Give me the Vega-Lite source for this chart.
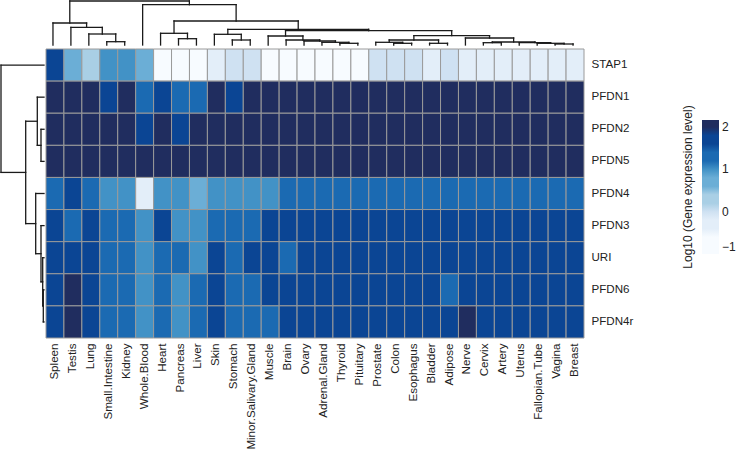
{
  "$schema": "https://vega.github.io/schema/vega-lite/v6.json",
  "padding": 0,
  "background": "white",
  "spacing": 0,
  "config": {"view": {"stroke": null}, "font": "Liberation Sans", "concat": {"spacing": 0}},
  "datasets": {
    "colTree": [
      {"xl": 3.5, "xr": 4.5, "hl": 3, "hr": 3, "h": 6.3},
      {"xl": 2.5, "xr": 4.0, "hl": 3, "hr": 6.3, "h": 14},
      {"xl": 1.5, "xr": 3.25, "hl": 3, "hr": 14, "h": 20.7},
      {"xl": 0.5, "xr": 2.375, "hl": 3, "hr": 20.7, "h": 25},
      {"xl": 7.5, "xr": 8.5, "hl": 3, "hr": 3, "h": 9.3},
      {"xl": 6.5, "xr": 8.0, "hl": 3, "hr": 9.3, "h": 14.7},
      {"xl": 10.5, "xr": 11.5, "hl": 3, "hr": 3, "h": 8},
      {"xl": 9.5, "xr": 11.0, "hl": 3, "hr": 8, "h": 13.7},
      {"xl": 16.5, "xr": 17.5, "hl": 3, "hr": 3, "h": 4.7},
      {"xl": 15.5, "xr": 17.0, "hl": 3, "hr": 4.7, "h": 5.7},
      {"xl": 14.5, "xr": 16.25, "hl": 3, "hr": 5.7, "h": 7},
      {"xl": 13.5, "xr": 15.375, "hl": 3, "hr": 7, "h": 8},
      {"xl": 12.5, "xr": 14.4375, "hl": 3, "hr": 8, "h": 12},
      {"xl": 19.5, "xr": 20.5, "hl": 3, "hr": 3, "h": 4.7},
      {"xl": 18.5, "xr": 20.0, "hl": 3, "hr": 4.7, "h": 5.7},
      {"xl": 21.5, "xr": 22.5, "hl": 3, "hr": 3, "h": 4.7},
      {"xl": 19.25, "xr": 22.0, "hl": 5.7, "hr": 4.7, "h": 8},
      {"xl": 28.5, "xr": 29.5, "hl": 3, "hr": 3, "h": 4},
      {"xl": 27.5, "xr": 29.0, "hl": 3, "hr": 4, "h": 4.7},
      {"xl": 26.5, "xr": 28.25, "hl": 3, "hr": 4.7, "h": 5.3},
      {"xl": 24.5, "xr": 25.5, "hl": 3, "hr": 3, "h": 5.3},
      {"xl": 25.0, "xr": 27.375, "hl": 5.3, "hr": 5.3, "h": 6},
      {"xl": 23.5, "xr": 26.1875, "hl": 3, "hr": 6, "h": 10},
      {"xl": 20.625, "xr": 24.84375, "hl": 8, "hr": 10, "h": 12.3},
      {"xl": 13.46875, "xr": 22.734375, "hl": 12, "hr": 12.3, "h": 17.3},
      {"xl": 10.25, "xr": 18.1015625, "hl": 13.7, "hr": 17.3, "h": 18.7},
      {"xl": 7.25, "xr": 14.17578, "hl": 14.7, "hr": 18.7, "h": 27},
      {"xl": 5.5, "xr": 10.71289, "hl": 3, "hr": 27, "h": 43.3},
      {"xl": 1.4375, "xr": 8.106445, "hl": 25, "hr": 43.3, "h": 47}
    ],
    "rowTree": [
      {"yl": 2.5, "yu": 3.5, "d": 3, "dl": 0, "du": 0},
      {"yl": 1.5, "yu": 3.0, "d": 6.7, "dl": 0, "du": 3},
      {"yl": 7.5, "yu": 8.5, "d": 0.7, "dl": 0, "du": 0},
      {"yl": 6.5, "yu": 8.0, "d": 1.3, "dl": 0, "du": 0.7},
      {"yl": 5.5, "yu": 7.25, "d": 3, "dl": 0, "du": 1.3},
      {"yl": 4.5, "yu": 6.375, "d": 8.3, "dl": 0, "du": 3},
      {"yl": 2.25, "yu": 5.4375, "d": 18.3, "dl": 6.7, "du": 8.3},
      {"yl": 0.5, "yu": 3.84375, "d": 43, "dl": 0, "du": 18.3}
    ],
    "cells": [
      {"gene":"STAP1","tissue":"Spleen","value":1.7},{"gene":"STAP1","tissue":"Testis","value":0.7},{"gene":"STAP1","tissue":"Lung","value":0.3},{"gene":"STAP1","tissue":"Small.Intestine","value":1.0},{"gene":"STAP1","tissue":"Kidney","value":1.0},{"gene":"STAP1","tissue":"Whole.Blood","value":0.7},{"gene":"STAP1","tissue":"Heart","value":-0.7},{"gene":"STAP1","tissue":"Pancreas","value":-0.7},{"gene":"STAP1","tissue":"Liver","value":-0.7},{"gene":"STAP1","tissue":"Skin","value":-0.3},{"gene":"STAP1","tissue":"Stomach","value":0.0},{"gene":"STAP1","tissue":"Minor.Salivary.Gland","value":0.0},{"gene":"STAP1","tissue":"Muscle","value":-0.7},{"gene":"STAP1","tissue":"Brain","value":-0.7},{"gene":"STAP1","tissue":"Ovary","value":-0.7},{"gene":"STAP1","tissue":"Adrenal.Gland","value":-0.7},{"gene":"STAP1","tissue":"Thyroid","value":-0.7},{"gene":"STAP1","tissue":"Pituitary","value":-0.7},{"gene":"STAP1","tissue":"Prostate","value":0.0},{"gene":"STAP1","tissue":"Colon","value":0.0},{"gene":"STAP1","tissue":"Esophagus","value":0.0},{"gene":"STAP1","tissue":"Bladder","value":-0.3},{"gene":"STAP1","tissue":"Adipose","value":0.0},{"gene":"STAP1","tissue":"Nerve","value":-0.3},{"gene":"STAP1","tissue":"Cervix","value":-0.3},{"gene":"STAP1","tissue":"Artery","value":-0.3},{"gene":"STAP1","tissue":"Uterus","value":-0.3},{"gene":"STAP1","tissue":"Fallopian.Tube","value":-0.3},{"gene":"STAP1","tissue":"Vagina","value":-0.3},{"gene":"STAP1","tissue":"Breast","value":-0.3},
      {"gene":"PFDN1","tissue":"Spleen","value":2.0},{"gene":"PFDN1","tissue":"Testis","value":2.0},{"gene":"PFDN1","tissue":"Lung","value":2.0},{"gene":"PFDN1","tissue":"Small.Intestine","value":1.7},{"gene":"PFDN1","tissue":"Kidney","value":2.0},{"gene":"PFDN1","tissue":"Whole.Blood","value":1.3},{"gene":"PFDN1","tissue":"Heart","value":1.7},{"gene":"PFDN1","tissue":"Pancreas","value":1.3},{"gene":"PFDN1","tissue":"Liver","value":1.3},{"gene":"PFDN1","tissue":"Skin","value":2.0},{"gene":"PFDN1","tissue":"Stomach","value":1.7},{"gene":"PFDN1","tissue":"Minor.Salivary.Gland","value":2.0},{"gene":"PFDN1","tissue":"Muscle","value":2.0},{"gene":"PFDN1","tissue":"Brain","value":2.0},{"gene":"PFDN1","tissue":"Ovary","value":2.0},{"gene":"PFDN1","tissue":"Adrenal.Gland","value":2.0},{"gene":"PFDN1","tissue":"Thyroid","value":2.0},{"gene":"PFDN1","tissue":"Pituitary","value":2.0},{"gene":"PFDN1","tissue":"Prostate","value":2.0},{"gene":"PFDN1","tissue":"Colon","value":2.0},{"gene":"PFDN1","tissue":"Esophagus","value":2.0},{"gene":"PFDN1","tissue":"Bladder","value":2.0},{"gene":"PFDN1","tissue":"Adipose","value":2.0},{"gene":"PFDN1","tissue":"Nerve","value":2.0},{"gene":"PFDN1","tissue":"Cervix","value":2.0},{"gene":"PFDN1","tissue":"Artery","value":2.0},{"gene":"PFDN1","tissue":"Uterus","value":2.0},{"gene":"PFDN1","tissue":"Fallopian.Tube","value":2.0},{"gene":"PFDN1","tissue":"Vagina","value":2.0},{"gene":"PFDN1","tissue":"Breast","value":2.0},
      {"gene":"PFDN2","tissue":"Spleen","value":2.0},{"gene":"PFDN2","tissue":"Testis","value":2.0},{"gene":"PFDN2","tissue":"Lung","value":2.0},{"gene":"PFDN2","tissue":"Small.Intestine","value":2.0},{"gene":"PFDN2","tissue":"Kidney","value":2.0},{"gene":"PFDN2","tissue":"Whole.Blood","value":1.7},{"gene":"PFDN2","tissue":"Heart","value":2.0},{"gene":"PFDN2","tissue":"Pancreas","value":1.7},{"gene":"PFDN2","tissue":"Liver","value":2.0},{"gene":"PFDN2","tissue":"Skin","value":2.0},{"gene":"PFDN2","tissue":"Stomach","value":2.0},{"gene":"PFDN2","tissue":"Minor.Salivary.Gland","value":2.0},{"gene":"PFDN2","tissue":"Muscle","value":2.0},{"gene":"PFDN2","tissue":"Brain","value":2.0},{"gene":"PFDN2","tissue":"Ovary","value":2.0},{"gene":"PFDN2","tissue":"Adrenal.Gland","value":2.0},{"gene":"PFDN2","tissue":"Thyroid","value":2.0},{"gene":"PFDN2","tissue":"Pituitary","value":2.0},{"gene":"PFDN2","tissue":"Prostate","value":2.0},{"gene":"PFDN2","tissue":"Colon","value":2.0},{"gene":"PFDN2","tissue":"Esophagus","value":2.0},{"gene":"PFDN2","tissue":"Bladder","value":2.0},{"gene":"PFDN2","tissue":"Adipose","value":2.0},{"gene":"PFDN2","tissue":"Nerve","value":2.0},{"gene":"PFDN2","tissue":"Cervix","value":2.0},{"gene":"PFDN2","tissue":"Artery","value":2.0},{"gene":"PFDN2","tissue":"Uterus","value":2.0},{"gene":"PFDN2","tissue":"Fallopian.Tube","value":2.0},{"gene":"PFDN2","tissue":"Vagina","value":2.0},{"gene":"PFDN2","tissue":"Breast","value":2.0},
      {"gene":"PFDN5","tissue":"Spleen","value":2.0},{"gene":"PFDN5","tissue":"Testis","value":2.0},{"gene":"PFDN5","tissue":"Lung","value":2.0},{"gene":"PFDN5","tissue":"Small.Intestine","value":2.0},{"gene":"PFDN5","tissue":"Kidney","value":2.0},{"gene":"PFDN5","tissue":"Whole.Blood","value":2.0},{"gene":"PFDN5","tissue":"Heart","value":2.0},{"gene":"PFDN5","tissue":"Pancreas","value":2.0},{"gene":"PFDN5","tissue":"Liver","value":2.0},{"gene":"PFDN5","tissue":"Skin","value":2.0},{"gene":"PFDN5","tissue":"Stomach","value":2.0},{"gene":"PFDN5","tissue":"Minor.Salivary.Gland","value":2.0},{"gene":"PFDN5","tissue":"Muscle","value":2.0},{"gene":"PFDN5","tissue":"Brain","value":2.0},{"gene":"PFDN5","tissue":"Ovary","value":2.0},{"gene":"PFDN5","tissue":"Adrenal.Gland","value":2.0},{"gene":"PFDN5","tissue":"Thyroid","value":2.0},{"gene":"PFDN5","tissue":"Pituitary","value":2.0},{"gene":"PFDN5","tissue":"Prostate","value":2.0},{"gene":"PFDN5","tissue":"Colon","value":2.0},{"gene":"PFDN5","tissue":"Esophagus","value":2.0},{"gene":"PFDN5","tissue":"Bladder","value":2.0},{"gene":"PFDN5","tissue":"Adipose","value":2.0},{"gene":"PFDN5","tissue":"Nerve","value":2.0},{"gene":"PFDN5","tissue":"Cervix","value":2.0},{"gene":"PFDN5","tissue":"Artery","value":2.0},{"gene":"PFDN5","tissue":"Uterus","value":2.0},{"gene":"PFDN5","tissue":"Fallopian.Tube","value":2.0},{"gene":"PFDN5","tissue":"Vagina","value":2.0},{"gene":"PFDN5","tissue":"Breast","value":2.0},
      {"gene":"PFDN4","tissue":"Spleen","value":1.3},{"gene":"PFDN4","tissue":"Testis","value":1.7},{"gene":"PFDN4","tissue":"Lung","value":1.3},{"gene":"PFDN4","tissue":"Small.Intestine","value":1.0},{"gene":"PFDN4","tissue":"Kidney","value":1.0},{"gene":"PFDN4","tissue":"Whole.Blood","value":-0.3},{"gene":"PFDN4","tissue":"Heart","value":1.0},{"gene":"PFDN4","tissue":"Pancreas","value":1.0},{"gene":"PFDN4","tissue":"Liver","value":0.7},{"gene":"PFDN4","tissue":"Skin","value":1.0},{"gene":"PFDN4","tissue":"Stomach","value":1.0},{"gene":"PFDN4","tissue":"Minor.Salivary.Gland","value":1.0},{"gene":"PFDN4","tissue":"Muscle","value":1.0},{"gene":"PFDN4","tissue":"Brain","value":1.3},{"gene":"PFDN4","tissue":"Ovary","value":1.3},{"gene":"PFDN4","tissue":"Adrenal.Gland","value":1.3},{"gene":"PFDN4","tissue":"Thyroid","value":1.3},{"gene":"PFDN4","tissue":"Pituitary","value":1.3},{"gene":"PFDN4","tissue":"Prostate","value":1.3},{"gene":"PFDN4","tissue":"Colon","value":1.3},{"gene":"PFDN4","tissue":"Esophagus","value":1.3},{"gene":"PFDN4","tissue":"Bladder","value":1.3},{"gene":"PFDN4","tissue":"Adipose","value":1.3},{"gene":"PFDN4","tissue":"Nerve","value":1.3},{"gene":"PFDN4","tissue":"Cervix","value":1.3},{"gene":"PFDN4","tissue":"Artery","value":1.3},{"gene":"PFDN4","tissue":"Uterus","value":1.3},{"gene":"PFDN4","tissue":"Fallopian.Tube","value":1.3},{"gene":"PFDN4","tissue":"Vagina","value":1.3},{"gene":"PFDN4","tissue":"Breast","value":1.3},
      {"gene":"PFDN3","tissue":"Spleen","value":1.7},{"gene":"PFDN3","tissue":"Testis","value":1.3},{"gene":"PFDN3","tissue":"Lung","value":1.7},{"gene":"PFDN3","tissue":"Small.Intestine","value":1.3},{"gene":"PFDN3","tissue":"Kidney","value":1.3},{"gene":"PFDN3","tissue":"Whole.Blood","value":1.0},{"gene":"PFDN3","tissue":"Heart","value":1.7},{"gene":"PFDN3","tissue":"Pancreas","value":1.0},{"gene":"PFDN3","tissue":"Liver","value":1.0},{"gene":"PFDN3","tissue":"Skin","value":1.3},{"gene":"PFDN3","tissue":"Stomach","value":1.3},{"gene":"PFDN3","tissue":"Minor.Salivary.Gland","value":1.3},{"gene":"PFDN3","tissue":"Muscle","value":1.7},{"gene":"PFDN3","tissue":"Brain","value":1.7},{"gene":"PFDN3","tissue":"Ovary","value":1.7},{"gene":"PFDN3","tissue":"Adrenal.Gland","value":1.7},{"gene":"PFDN3","tissue":"Thyroid","value":1.7},{"gene":"PFDN3","tissue":"Pituitary","value":1.7},{"gene":"PFDN3","tissue":"Prostate","value":1.7},{"gene":"PFDN3","tissue":"Colon","value":1.7},{"gene":"PFDN3","tissue":"Esophagus","value":1.7},{"gene":"PFDN3","tissue":"Bladder","value":1.7},{"gene":"PFDN3","tissue":"Adipose","value":1.7},{"gene":"PFDN3","tissue":"Nerve","value":1.7},{"gene":"PFDN3","tissue":"Cervix","value":1.7},{"gene":"PFDN3","tissue":"Artery","value":1.7},{"gene":"PFDN3","tissue":"Uterus","value":1.7},{"gene":"PFDN3","tissue":"Fallopian.Tube","value":1.7},{"gene":"PFDN3","tissue":"Vagina","value":1.7},{"gene":"PFDN3","tissue":"Breast","value":1.7},
      {"gene":"URI","tissue":"Spleen","value":1.7},{"gene":"URI","tissue":"Testis","value":1.7},{"gene":"URI","tissue":"Lung","value":1.7},{"gene":"URI","tissue":"Small.Intestine","value":1.3},{"gene":"URI","tissue":"Kidney","value":1.3},{"gene":"URI","tissue":"Whole.Blood","value":1.0},{"gene":"URI","tissue":"Heart","value":1.3},{"gene":"URI","tissue":"Pancreas","value":1.3},{"gene":"URI","tissue":"Liver","value":1.0},{"gene":"URI","tissue":"Skin","value":1.7},{"gene":"URI","tissue":"Stomach","value":1.3},{"gene":"URI","tissue":"Minor.Salivary.Gland","value":1.7},{"gene":"URI","tissue":"Muscle","value":1.7},{"gene":"URI","tissue":"Brain","value":1.3},{"gene":"URI","tissue":"Ovary","value":1.7},{"gene":"URI","tissue":"Adrenal.Gland","value":1.7},{"gene":"URI","tissue":"Thyroid","value":1.7},{"gene":"URI","tissue":"Pituitary","value":1.7},{"gene":"URI","tissue":"Prostate","value":1.7},{"gene":"URI","tissue":"Colon","value":1.7},{"gene":"URI","tissue":"Esophagus","value":1.7},{"gene":"URI","tissue":"Bladder","value":1.7},{"gene":"URI","tissue":"Adipose","value":1.7},{"gene":"URI","tissue":"Nerve","value":1.7},{"gene":"URI","tissue":"Cervix","value":1.7},{"gene":"URI","tissue":"Artery","value":1.7},{"gene":"URI","tissue":"Uterus","value":1.7},{"gene":"URI","tissue":"Fallopian.Tube","value":1.7},{"gene":"URI","tissue":"Vagina","value":1.7},{"gene":"URI","tissue":"Breast","value":1.7},
      {"gene":"PFDN6","tissue":"Spleen","value":1.7},{"gene":"PFDN6","tissue":"Testis","value":2.0},{"gene":"PFDN6","tissue":"Lung","value":1.7},{"gene":"PFDN6","tissue":"Small.Intestine","value":1.3},{"gene":"PFDN6","tissue":"Kidney","value":1.3},{"gene":"PFDN6","tissue":"Whole.Blood","value":1.0},{"gene":"PFDN6","tissue":"Heart","value":1.3},{"gene":"PFDN6","tissue":"Pancreas","value":1.0},{"gene":"PFDN6","tissue":"Liver","value":1.3},{"gene":"PFDN6","tissue":"Skin","value":1.7},{"gene":"PFDN6","tissue":"Stomach","value":1.3},{"gene":"PFDN6","tissue":"Minor.Salivary.Gland","value":1.3},{"gene":"PFDN6","tissue":"Muscle","value":1.7},{"gene":"PFDN6","tissue":"Brain","value":1.7},{"gene":"PFDN6","tissue":"Ovary","value":1.7},{"gene":"PFDN6","tissue":"Adrenal.Gland","value":1.7},{"gene":"PFDN6","tissue":"Thyroid","value":1.7},{"gene":"PFDN6","tissue":"Pituitary","value":1.7},{"gene":"PFDN6","tissue":"Prostate","value":1.7},{"gene":"PFDN6","tissue":"Colon","value":1.7},{"gene":"PFDN6","tissue":"Esophagus","value":1.7},{"gene":"PFDN6","tissue":"Bladder","value":1.7},{"gene":"PFDN6","tissue":"Adipose","value":1.3},{"gene":"PFDN6","tissue":"Nerve","value":1.7},{"gene":"PFDN6","tissue":"Cervix","value":1.7},{"gene":"PFDN6","tissue":"Artery","value":1.7},{"gene":"PFDN6","tissue":"Uterus","value":1.7},{"gene":"PFDN6","tissue":"Fallopian.Tube","value":1.7},{"gene":"PFDN6","tissue":"Vagina","value":1.7},{"gene":"PFDN6","tissue":"Breast","value":1.7},
      {"gene":"PFDN4r","tissue":"Spleen","value":1.7},{"gene":"PFDN4r","tissue":"Testis","value":2.0},{"gene":"PFDN4r","tissue":"Lung","value":1.7},{"gene":"PFDN4r","tissue":"Small.Intestine","value":1.3},{"gene":"PFDN4r","tissue":"Kidney","value":1.3},{"gene":"PFDN4r","tissue":"Whole.Blood","value":1.0},{"gene":"PFDN4r","tissue":"Heart","value":1.3},{"gene":"PFDN4r","tissue":"Pancreas","value":1.0},{"gene":"PFDN4r","tissue":"Liver","value":1.3},{"gene":"PFDN4r","tissue":"Skin","value":1.7},{"gene":"PFDN4r","tissue":"Stomach","value":1.3},{"gene":"PFDN4r","tissue":"Minor.Salivary.Gland","value":1.3},{"gene":"PFDN4r","tissue":"Muscle","value":1.3},{"gene":"PFDN4r","tissue":"Brain","value":1.7},{"gene":"PFDN4r","tissue":"Ovary","value":1.7},{"gene":"PFDN4r","tissue":"Adrenal.Gland","value":1.7},{"gene":"PFDN4r","tissue":"Thyroid","value":1.7},{"gene":"PFDN4r","tissue":"Pituitary","value":1.7},{"gene":"PFDN4r","tissue":"Prostate","value":1.7},{"gene":"PFDN4r","tissue":"Colon","value":1.7},{"gene":"PFDN4r","tissue":"Esophagus","value":1.7},{"gene":"PFDN4r","tissue":"Bladder","value":1.7},{"gene":"PFDN4r","tissue":"Adipose","value":1.7},{"gene":"PFDN4r","tissue":"Nerve","value":2.0},{"gene":"PFDN4r","tissue":"Cervix","value":1.7},{"gene":"PFDN4r","tissue":"Artery","value":1.7},{"gene":"PFDN4r","tissue":"Uterus","value":1.7},{"gene":"PFDN4r","tissue":"Fallopian.Tube","value":1.7},{"gene":"PFDN4r","tissue":"Vagina","value":1.7},{"gene":"PFDN4r","tissue":"Breast","value":1.7}
    ]
  },
  "vconcat": [
    {
      "width": 582,
      "height": 48,
      "data": {"name": "colTree"},
      "layer": [
        {
          "mark": {"type": "rule", "color": "#1a1a1a", "strokeWidth": 1.3, "strokeCap": "square"},
          "encoding": {
            "x": {"field": "xl", "type": "quantitative", "scale": {"domain": [-2.454, 30], "nice": false, "zero": false}, "axis": null},
            "x2": {"field": "xr"},
            "y": {"field": "h", "type": "quantitative", "scale": {"domain": [0, 48], "nice": false, "zero": false}, "axis": null}
          }
        },
        {
          "mark": {"type": "rule", "color": "#1a1a1a", "strokeWidth": 1.3, "strokeCap": "square"},
          "encoding": {
            "x": {"field": "xl", "type": "quantitative"},
            "y": {"field": "hl", "type": "quantitative"},
            "y2": {"field": "h"}
          }
        },
        {
          "mark": {"type": "rule", "color": "#1a1a1a", "strokeWidth": 1.3, "strokeCap": "square"},
          "encoding": {
            "x": {"field": "xr", "type": "quantitative"},
            "y": {"field": "hr", "type": "quantitative"},
            "y2": {"field": "h"}
          }
        }
      ]
    },
    {
      "spacing": 0,
      "hconcat": [
        {
          "width": 44,
          "height": 289,
          "data": {"name": "rowTree"},
          "layer": [
            {
              "mark": {"type": "rule", "color": "#1a1a1a", "strokeWidth": 1.3, "strokeCap": "square"},
              "encoding": {
                "x": {"field": "d", "type": "quantitative", "scale": {"domain": [0, 44], "nice": false, "zero": false, "reverse": true}, "axis": null},
                "y": {"field": "yl", "type": "quantitative", "scale": {"domain": [0, 9], "nice": false, "zero": false, "reverse": true}, "axis": null},
                "y2": {"field": "yu"}
              }
            },
            {
              "mark": {"type": "rule", "color": "#1a1a1a", "strokeWidth": 1.3, "strokeCap": "square"},
              "encoding": {
                "x": {"field": "dl", "type": "quantitative"},
                "x2": {"field": "d"},
                "y": {"field": "yl", "type": "quantitative"}
              }
            },
            {
              "mark": {"type": "rule", "color": "#1a1a1a", "strokeWidth": 1.3, "strokeCap": "square"},
              "encoding": {
                "x": {"field": "du", "type": "quantitative"},
                "x2": {"field": "d"},
                "y": {"field": "yu", "type": "quantitative"}
              }
            }
          ]
        },
        {
          "width": 538,
          "height": 289,
          "data": {"name": "cells"},
          "mark": {"type": "rect", "stroke": "#9a9a9a", "strokeWidth": 1},
          "encoding": {
            "x": {
              "field": "tissue", "type": "nominal",
              "sort": ["Spleen","Testis","Lung","Small.Intestine","Kidney","Whole.Blood","Heart","Pancreas","Liver","Skin","Stomach","Minor.Salivary.Gland","Muscle","Brain","Ovary","Adrenal.Gland","Thyroid","Pituitary","Prostate","Colon","Esophagus","Bladder","Adipose","Nerve","Cervix","Artery","Uterus","Fallopian.Tube","Vagina","Breast"],
              "scale": {"paddingInner": 0, "paddingOuter": 0},
              "axis": {"orient": "bottom", "title": null, "labelAngle": 270, "ticks": false, "domain": false, "labelPadding": 5, "labelFontSize": 11.6, "labelColor": "#222222", "labelFont": "Liberation Sans"}
            },
            "y": {
              "field": "gene", "type": "nominal",
              "sort": ["STAP1","PFDN1","PFDN2","PFDN5","PFDN4","PFDN3","URI","PFDN6","PFDN4r"],
              "scale": {"paddingInner": 0, "paddingOuter": 0},
              "axis": {"orient": "right", "title": null, "ticks": false, "domain": false, "labelPadding": 7, "labelFontSize": 11.6, "labelColor": "#222222", "labelFont": "Liberation Sans"}
            },
            "color": {
              "field": "value", "type": "quantitative",
              "scale": {
                "domain": [-1, -0.502, -0.498, -0.169, -0.165, 0.165, 0.169, 0.498, 0.502, 0.831, 0.835, 1.165, 1.169, 1.498, 1.502, 1.831, 1.835, 2.167],
                "range": ["#F7FBFF","#F7FBFF","#E3EEF9","#E3EEF9","#CFE1F2","#CFE1F2","#A9CFE5","#A9CFE5","#6BAED6","#6BAED6","#4292C6","#4292C6","#1B6AB2","#1B6AB2","#0B4594","#0B4594","#202D5F","#202D5F"],
                "interpolate": "rgb"
              },
              "legend": {
                "title": "Log10 (Gene expression level)",
                "orient": "none", "legendX": 682, "legendY": 120,
                "direction": "vertical", "gradientLength": 134, "gradientThickness": 17, "gradientStrokeWidth": 0,
                "titleOrient": "left", "titleAngle": 270, "titleAnchor": "middle", "titlePadding": 6,
                "titleFontSize": 12, "titleFontWeight": "normal", "titleColor": "#222222", "titleFont": "Liberation Sans",
                "labelFontSize": 12, "labelColor": "#222222", "labelOffset": 3, "labelBaseline": "middle", "labelFont": "Liberation Sans",
                "values": [-1, 0, 1, 2]
              }
            }
          }
        }
      ]
    }
  ]
}
